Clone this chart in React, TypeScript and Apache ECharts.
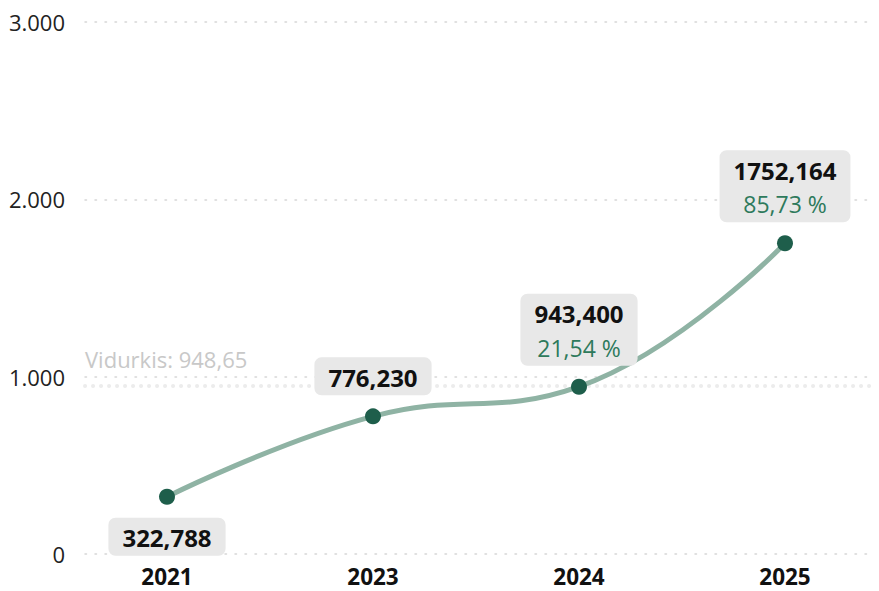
import React, { useEffect, useRef } from "react";
import * as echarts from "echarts";

const categories = ["2021", "2023", "2024", "2025"];
const values = [322.788, 776.23, 943.4, 1752.164];
const changes = ["", "", "21,54 %", "85,73 %"];
const yTicks = [0, 1000, 2000, 3000];

const FONT = "'Segoe UI', 'Open Sans', 'Noto Sans', sans-serif";

const fmt3 = (v: number) => v.toFixed(3).replace(".", ",");
const fmtTick = (v: number) => (v >= 1000 ? `${Math.round(v / 1000)}.000` : `${v}`);

export default function App() {
  const ref = useRef<HTMLDivElement>(null);
  useEffect(() => {
    if (!ref.current) return;
    const chart = echarts.init(ref.current, undefined, { renderer: "svg" });
    const avg = values.reduce((a, b) => a + b, 0) / values.length;
    const avgText = avg.toFixed(2).replace(".", ",");
    chart.setOption({
      animation: false,
      textStyle: { fontFamily: FONT },
      grid: [
        { left: 85, right: 9, top: 22, bottom: 37 },
        { left: 167, right: 94, top: 22, bottom: 37 },
      ],
      xAxis: [
        { type: "category", gridIndex: 0, data: categories, show: false },
        {
          type: "category",
          gridIndex: 1,
          data: categories,
          boundaryGap: false,
          axisLine: { show: false },
          axisTick: { show: false },
          axisLabel: { color: "#111", fontSize: 22.5, fontWeight: "bold", margin: 11, fontFamily: FONT },
        },
      ],
      yAxis: [
        {
          type: "value",
          gridIndex: 0,
          min: yTicks[0],
          max: yTicks[yTicks.length - 1],
          interval: 1000,
          axisLine: { show: false },
          axisTick: { show: false },
          axisLabel: { color: "#222", fontSize: 22, margin: 20, formatter: fmtTick, fontFamily: FONT },
          splitLine: { lineStyle: { color: "#d6d6d6", width: 1.5, type: [1.5, 8.5], cap: "round" } },
        },
        {
          type: "value",
          gridIndex: 1,
          min: yTicks[0],
          max: yTicks[yTicks.length - 1],
          interval: 1000,
          show: false,
          splitLine: { show: false },
        },
      ],
      series: [
        {
          type: "line",
          xAxisIndex: 0,
          yAxisIndex: 0,
          data: values,
          symbol: "none",
          lineStyle: { opacity: 0 },
          silent: true,
          z: 1,
          markLine: {
            silent: true,
            z: 1,
            symbol: "none",
            data: [{ yAxis: avg }],
            lineStyle: { color: "#ececec", width: 4, type: [0.1, 7.9], cap: "round" },
            label: {
              position: "insideStartTop",
              formatter: `Vidurkis: ${avgText}`,
              color: "#c8c8c8",
              fontSize: 22,
              fontFamily: FONT,
              distance: [0, 16],
            },
          },
        },
        {
          type: "line",
          xAxisIndex: 1,
          yAxisIndex: 1,
          data: values.map((v, i) => ({
            value: v,
            label: { position: i === 0 ? "bottom" : "top" },
          })),
          smooth: 0.45,
          symbol: "circle",
          symbolSize: 16,
          itemStyle: { color: "#1e5e4b" },
          lineStyle: { color: "#8fb3a4", width: 5 },
          z: 6,
          label: {
            show: true,
            distance: 13,
            backgroundColor: "#e8e8e8",
            borderRadius: 7,
            padding: [3, 14, 1, 14],
            align: "center",
            formatter: (p: any) => {
              const c = changes[p.dataIndex];
              return c ? `{v|${fmt3(p.value)}}\n{p|${c}}` : `{v|${fmt3(p.value)}}`;
            },
            rich: {
              v: { fontSize: 24, fontWeight: "bold", color: "#111", lineHeight: 34, fontFamily: FONT, align: "center" },
              p: { fontSize: 23, color: "#2e7a5c", lineHeight: 34, fontFamily: FONT, align: "center" },
            },
          },
        },
      ],
    });
    return () => chart.dispose();
  }, []);
  return (
    <div
      ref={ref}
      style={{ position: "fixed", left: 0, top: 0, width: 879, height: 591, background: "#fff" }}
    />
  );
}
